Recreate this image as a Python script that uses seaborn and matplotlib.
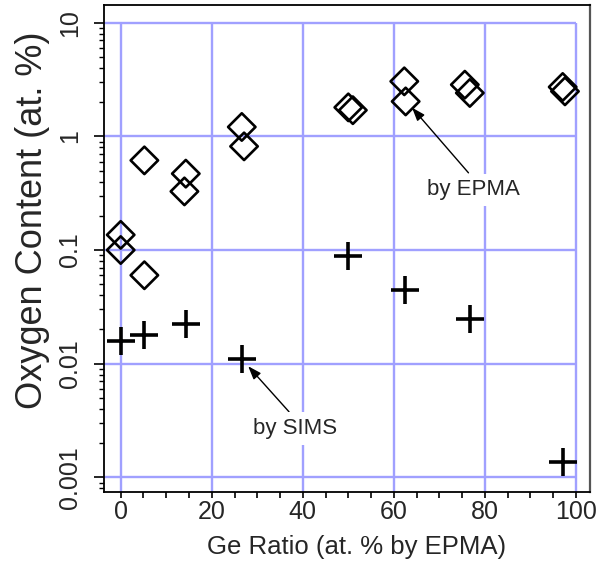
import numpy as np
import pandas as pd
import matplotlib
matplotlib.use("Agg")
import matplotlib.pyplot as plt
import seaborn as sns
from matplotlib.ticker import FixedLocator, LogLocator, NullFormatter, FixedFormatter

# ---- data ----
epma_ge = [0.0, 0.0, 5.2, 5.2, 14.3, 14.0, 26.6, 27.1, 50.0, 51.0, 62.3, 62.6, 75.6, 76.7, 97.1, 97.6]
epma_oxygen = [0.136, 0.100, 0.615, 0.060, 0.47, 0.328, 1.21, 0.817, 1.80, 1.70, 3.05, 2.03, 2.85, 2.41, 2.72, 2.49]

sims_ge = [0.0, 5.2, 14.3, 26.6, 50.0, 62.4, 76.7, 97.2]
sims_oxygen = [0.0159, 0.0179, 0.0222, 0.0111, 0.089, 0.0448, 0.0247, 0.00137]

x_ticks = [0, 20, 40, 60, 80, 100]
x_ticklabels = ["0", "20", "40", "60", "80", "100"]
y_ticks = [0.001, 0.01, 0.1, 1, 10]
y_ticklabels = ["0.001", "0.01", "0.1", "1", "10"]

x_label = "Ge Ratio (at. % by EPMA)"
y_label = "Oxygen Content (at. %)"
epma_note = "by EPMA"
sims_note = "by SIMS"

epma_df = pd.DataFrame({"ge": epma_ge, "oxygen": epma_oxygen})
sims_df = pd.DataFrame({"ge": sims_ge, "oxygen": sims_oxygen})

sns.set_style("white")
plt.rcParams["font.family"] = ["Liberation Sans", "DejaVu Sans"]

fig = plt.figure(figsize=(6.06, 5.67), dpi=100)
ax = fig.add_axes([104 / 606, 1 - 492 / 567, (590 - 104) / 606, (492 - 5) / 567])

ax.set_yscale("log")
xlim = (-3.67, 103.1)
ylim = (10 ** -3.129, 10 ** 1.156)
ax.set_xlim(*xlim)
ax.set_ylim(*ylim)

grid_color = "#a0a0ff"
ax.hlines(y_ticks, xlim[0], x_ticks[-1], colors=grid_color, linewidth=1.7, zorder=0.5)
ax.vlines(x_ticks, ylim[0], y_ticks[-1], colors=grid_color, linewidth=1.7, zorder=0.5)

sns.scatterplot(data=epma_df, x="ge", y="oxygen", marker="D", s=195,
                facecolor="none", edgecolor="black", linewidth=1.9, ax=ax, zorder=3)
sns.scatterplot(data=sims_df, x="ge", y="oxygen", marker="+", s=430,
                color="black", linewidth=2.6, ax=ax, zorder=3)

# ticks
ax.xaxis.set_major_locator(FixedLocator(x_ticks))
ax.xaxis.set_major_formatter(FixedFormatter(x_ticklabels))
ax.xaxis.set_minor_locator(FixedLocator(np.arange(0, 101, 5)))
ax.yaxis.set_major_locator(FixedLocator(y_ticks))
ax.yaxis.set_major_formatter(FixedFormatter(y_ticklabels))
ax.yaxis.set_minor_locator(LogLocator(base=10, subs=np.arange(2, 10)))
ax.yaxis.set_minor_formatter(NullFormatter())

ax.tick_params(axis="x", which="both", direction="out", length=4, width=1.2,
               labelsize=18, pad=2, bottom=True, top=False, color="black")
ax.tick_params(axis="y", which="major", direction="out", length=7, width=1.2,
               labelsize=18, pad=9, left=True, right=False, color="black")
ax.tick_params(axis="y", which="minor", direction="out", length=3.5, width=1.0,
               left=True, right=False, color="black")
for lab in ax.get_yticklabels():
    lab.set_rotation(90)
    lab.set_verticalalignment("center")

ax.set_xlabel(x_label, fontsize=18.5, labelpad=8)
ax.xaxis.label.set_x(0.519)
ax.set_ylabel(y_label, fontsize=26, va="center")
ax.yaxis.set_label_coords(-0.147, 0.5585)

for side in ["left", "bottom", "top"]:
    ax.spines[side].set_color("black")
    ax.spines[side].set_linewidth(1.3)
ax.spines["right"].set_color("#555555")
ax.spines["right"].set_linewidth(1.6)

arrow = dict(arrowstyle="-|>,head_length=0.5,head_width=0.18", color="black",
             lw=1.0, shrinkA=6, shrinkB=0, patchA=None, relpos=(0.5, 1.0))
box = dict(boxstyle="square,pad=0.25", fc="white", ec="none")
ax.annotate(epma_note, xy=(64.0, 1.79), xytext=(77.6, 0.34), fontsize=16,
            ha="center", va="center", bbox=box, arrowprops=arrow, zorder=4)
ax.annotate(sims_note, xy=(28.0, 0.0095), xytext=(38.2, 0.00269), fontsize=16,
            ha="center", va="center", bbox=box, arrowprops=arrow, zorder=4)

fig.savefig("out.png", dpi=100)
